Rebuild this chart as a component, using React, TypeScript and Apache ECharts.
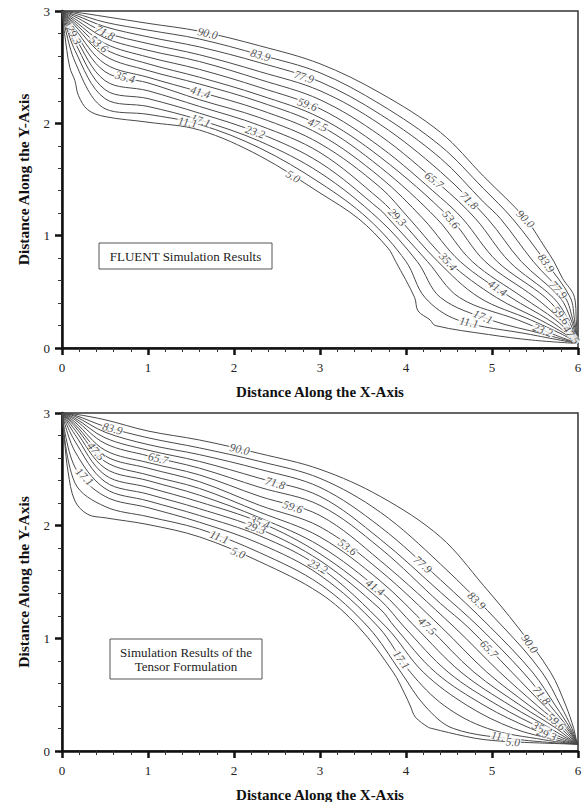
import React, { useEffect, useRef } from "react";
import * as echarts from "echarts";

// contour levels, outermost (top/right) to innermost
const LEVELS = ["90.0", "83.9", "77.9", "71.8", "65.7", "59.6", "53.6", "47.5", "41.4", "35.4", "29.3", "23.2", "17.1", "11.1", "5.0"];
const N = null;

// ---------- FLUENT (top panel) ----------
// Y of each contour at fixed X
const f_x015 = [2.99, 2.98, 2.965, 2.95, 2.93, 2.91, 2.89, 2.87, 2.84, 2.81, 2.77, 2.72, 2.65, 2.55, 2.38];
const f_x05 = [2.95, 2.9, 2.86, 2.81, 2.76, 2.71, 2.66, 2.6, 2.53, 2.46, 2.38, 2.3, 2.22, 2.13, 2.06];
const f_x10 = [2.89, 2.83, 2.77, 2.71, 2.65, 2.59, 2.53, 2.47, 2.41, 2.36, 2.29, 2.22, 2.15, 2.08, 2.01];
const f_x16 = [2.82, 2.75, 2.68, 2.61, 2.55, 2.48, 2.41, 2.35, 2.28, 2.21, 2.15, 2.09, 2.03, 1.99, 1.94];
const f_x23 = [2.69, 2.61, 2.54, 2.46, 2.39, 2.32, 2.25, 2.19, 2.12, 2.05, 1.98, 1.91, 1.84, 1.78, 1.71];
const f_x30 = [2.53, 2.45, 2.37, 2.29, 2.21, 2.13, 2.05, 1.98, 1.9, 1.82, 1.74, 1.65, 1.56, 1.47, 1.38];
const f_x37 = [2.27, 2.17, 2.08, 1.99, 1.89, 1.79, 1.7, 1.61, 1.52, 1.43, 1.32, 1.23, N, N, N];
const f_x44 = [1.92, 1.8, 1.69, 1.57, 1.45, 1.34, N, N, N, N, N, N, N, N, N];
const f_x49 = [1.53, 1.42, 1.3, N, N, N, N, N, N, N, N, N, N, N, N];
// X of each contour at fixed Y
const f_y115 = [5.39, 5.24, 5.1, 4.95, 4.81, 4.66, 4.52, 4.36, 4.2, 4.04, 3.92, 3.8, 3.68, 3.56, 3.45];
const f_y077 = [5.72, 5.62, 5.48, 5.34, 5.2, 5.06, 4.92, 4.77, 4.63, 4.49, 4.37, 4.25, 4.13, 4.0, 3.88];
const f_y045 = [5.96, 5.91, 5.85, 5.79, 5.71, 5.62, 5.5, 5.36, 5.22, 5.05, 4.85, 4.62, 4.4, 4.22, 4.1];
const f_y025 = [5.98, 5.96, 5.94, 5.92, 5.89, 5.85, 5.8, 5.74, 5.66, 5.56, 5.45, 5.3, 4.98, 4.6, 4.28];
const f_y012 = [5.99, 5.985, 5.98, 5.97, 5.96, 5.95, 5.94, 5.92, 5.89, 5.86, 5.82, 5.72, 5.62, 5.45, 4.96];
const f_extra90 = [[5.62, 0.89], [5.82, 0.62]];
const f_extra5 = [[0.03, 2.8], [0.09, 2.5], [0.19, 2.25], [0.3, 2.12], [3.79, 0.89], [4.14, 0.33], [4.34, 0.2], [5.47, 0.07]];
const f_end = [6, 0.04];
const fluentLabels: [string, number, number][] = [
  ["90.0", 1.7, 2.82], ["90.0", 5.39, 1.15], ["83.9", 2.3, 2.59], ["83.9", 5.62, 0.75],
  ["77.9", 2.81, 2.4], ["77.9", 5.76, 0.51], ["71.8", 0.5, 2.81], ["71.8", 4.73, 1.31],
  ["65.7", 4.32, 1.49], ["59.6", 2.85, 2.16], ["59.6", 5.8, 0.29], ["53.6", 0.41, 2.69],
  ["53.6", 4.52, 1.14], ["47.5", 2.97, 1.98], ["47.5", 5.94, 0.13], ["41.4", 1.61, 2.28],
  ["41.4", 5.08, 0.55], ["35.4", 0.73, 2.4], ["35.4", 4.49, 0.77], ["29.3", 0.12, 2.78],
  ["29.3", 3.88, 1.15], ["23.2", 2.25, 1.93], ["23.2", 5.59, 0.16], ["17.1", 1.61, 2.02],
  ["17.1", 4.89, 0.27], ["11.1", 1.46, 2.0], ["11.1", 4.73, 0.22], ["5.0", 2.69, 1.53],
];

// ---------- Tensor formulation (bottom panel) ----------
const t_x015 = [2.99, 2.98, 2.97, 2.955, 2.94, 2.92, 2.9, 2.88, 2.85, 2.81, 2.75, 2.66, 2.52, 2.38, 2.22];
const t_x05 = [2.94, 2.88, 2.83, 2.78, 2.73, 2.67, 2.62, 2.57, 2.51, 2.45, 2.39, 2.33, 2.26, 2.17, 2.07];
const t_x10 = [2.84, 2.78, 2.72, 2.67, 2.62, 2.56, 2.51, 2.45, 2.4, 2.34, 2.28, 2.22, 2.16, 2.08, 2.01];
const t_x16 = [2.76, 2.69, 2.63, 2.57, 2.51, 2.45, 2.39, 2.33, 2.27, 2.21, 2.15, 2.09, 2.03, 1.97, 1.9];
const t_x23 = [2.64, 2.57, 2.5, 2.42, 2.34, 2.26, 2.18, 2.12, 2.07, 2.03, 1.97, 1.91, 1.84, 1.76, 1.68];
const t_x30 = [2.5, 2.42, 2.34, 2.26, 2.18, 2.09, 1.99, 1.9, 1.82, 1.75, 1.69, 1.63, 1.56, 1.48, 1.4];
const t_x37 = [2.26, 2.12, 1.99, 1.88, 1.8, 1.69, 1.6, 1.51, 1.42, 1.34, 1.26, N, N, N, N];
const t_x44 = [1.9, 1.66, 1.52, 1.41, 1.31, N, N, N, N, N, N, N, N, N, N];
const t_x49 = [1.47, N, N, N, N, N, N, N, N, N, N, N, N, N, N];
const t_y11 = [5.3, 5.13, 4.98, 4.85, 4.72, 4.56, 4.41, 4.26, 4.11, 3.98, 3.87, 3.77, 3.68, 3.56, 3.45];
const t_y07 = [5.68, 5.58, 5.47, 5.36, 5.23, 5.09, 4.94, 4.79, 4.64, 4.49, 4.34, 4.2, 4.05, 3.94, 3.85];
const t_y04 = [5.86, 5.8, 5.74, 5.68, 5.61, 5.53, 5.44, 5.34, 5.22, 5.08, 4.92, 4.72, 4.45, 4.22, 4.05];
const t_y02 = [5.95, 5.93, 5.91, 5.89, 5.87, 5.84, 5.8, 5.75, 5.68, 5.58, 5.45, 5.25, 4.95, 4.55, 4.3];
const t_y01 = [5.98, 5.975, 5.97, 5.965, 5.96, 5.95, 5.94, 5.92, 5.9, 5.87, 5.82, 5.74, 5.6, 5.33, 4.92];
const t_extra90: number[][] = [];
const t_extra5 = [[0.03, 2.75], [0.07, 2.48], [0.3, 2.1], [3.99, 0.5], [4.11, 0.3], [4.26, 0.21], [4.69, 0.13], [5.27, 0.08]];
const t_end = [6, 0.06];
const tensorLabels: [string, number, number][] = [
  ["83.9", 0.59, 2.87], ["83.9", 4.84, 1.35], ["90.0", 2.07, 2.69], ["90.0", 5.47, 0.97],
  ["65.7", 1.12, 2.6], ["65.7", 4.96, 0.9], ["47.5", 0.38, 2.65], ["47.5", 4.25, 1.11],
  ["17.1", 0.23, 2.41], ["17.1", 3.93, 0.8], ["71.8", 2.48, 2.38], ["71.8", 5.62, 0.52],
  ["59.6", 2.68, 2.16], ["59.6", 5.77, 0.28], ["35.4", 2.3, 2.03], ["35.4", 5.59, 0.21],
  ["29.3", 2.25, 1.98], ["29.3", 5.64, 0.16], ["11.1", 1.82, 1.88], ["11.1", 5.1, 0.12],
  ["5.0", 2.05, 1.76], ["5.0", 5.24, 0.05], ["23.2", 2.97, 1.63], ["53.6", 3.32, 1.81],
  ["77.9", 4.19, 1.65], ["41.4", 3.64, 1.45],
];

const X_TICKS = [0, 1, 2, 3, 4, 5, 6];
const Y_TICKS = [0, 1, 2, 3];

const SERIF = "'Liberation Serif', 'DejaVu Serif', serif";
const GRID_W = 516;
const GRIDS = [
  { left: 62, top: 11, width: GRID_W, height: 337 },
  { left: 62, top: 413, width: GRID_W, height: 338 },
];

type Pt = number[];

function buildLine(i: number, xSt: [number, (number | null)[]][], ySt: [number, (number | null)[]][], extra: Pt[], end: Pt): Pt[] {
  const pts: Pt[] = [[0, 3]];
  xSt.forEach(([x, arr]) => { const v = arr[i]; if (v != null) pts.push([x, v]); });
  ySt.forEach(([y, arr]) => { const v = arr[i]; if (v != null) pts.push([v, y]); });
  extra.forEach((p) => pts.push(p));
  pts.push(end);
  const key = (p: Pt) => p[0] / 6 + (3 - p[1]) / 3;
  pts.sort((a, b) => key(a) - key(b));
  const out: Pt[] = [pts[0]];
  for (const p of pts.slice(1)) {
    const q = out[out.length - 1];
    if (p[0] >= q[0] && p[1] <= q[1] && (p[0] !== q[0] || p[1] !== q[1])) out.push(p);
  }
  return out;
}

function snapLabel(line: Pt[], lx: number, ly: number, sx: number, sy: number) {
  let best = { d: Infinity, x: lx, y: ly, ang: 0 };
  for (let k = 0; k < line.length - 1; k++) {
    const ax = line[k][0] * sx, ay = line[k][1] * sy;
    const bx = line[k + 1][0] * sx, by = line[k + 1][1] * sy;
    const px = lx * sx, py = ly * sy;
    const dx = bx - ax, dy = by - ay;
    const len2 = dx * dx + dy * dy || 1;
    let t = ((px - ax) * dx + (py - ay) * dy) / len2;
    t = Math.max(0, Math.min(1, t));
    const cx = ax + t * dx, cy = ay + t * dy;
    const d = Math.hypot(px - cx, py - cy);
    if (d < best.d) best = { d, x: cx / sx, y: cy / sy, ang: (Math.atan2(dy, dx) * 180) / Math.PI };
  }
  return best;
}

function panelSeries(idx: number, xSt: any, ySt: any, extra90: Pt[], extra5: Pt[], end: Pt, labels: [string, number, number][]) {
  const g = GRIDS[idx];
  const sx = g.width / 6, sy = g.height / 3;
  const lines = LEVELS.map((_, i) =>
    buildLine(i, xSt, ySt, i === 0 ? extra90 : i === LEVELS.length - 1 ? extra5 : [], end)
  );
  const series: any[] = lines.map((pts, i) => ({
    type: "line",
    name: LEVELS[i],
    xAxisIndex: idx,
    yAxisIndex: idx,
    data: pts,
    symbol: "none",
    showSymbol: false,
    smooth: 0.35,
    clip: true,
    silent: true,
    lineStyle: { color: "#4a4a4a", width: 1 },
    z: 2,
  }));
  const labelData = labels.map(([lv, lx, ly]) => {
    const li = LEVELS.indexOf(lv);
    const s = snapLabel(lines[li], lx, ly, sx, sy);
    let ang = s.ang;
    if (ang > 90) ang -= 180;
    if (ang < -90) ang += 180;
    return { value: [s.x, s.y], name: lv, label: { rotate: ang } };
  });
  series.push({
    type: "scatter",
    xAxisIndex: idx,
    yAxisIndex: idx,
    symbolSize: 0,
    silent: true,
    clip: true,
    z: 5,
    data: labelData,
    label: {
      show: true,
      position: "inside",
      formatter: (p: any) => p.name,
      fontFamily: SERIF,
      fontStyle: "italic",
      fontSize: 11.5,
      lineHeight: 8,
      color: "#222",
      backgroundColor: "#fff",
      padding: [0, 1],
    },
  });
  return series;
}

function mkX(idx: number) {
  return {
    type: "value",
    gridIndex: idx,
    min: X_TICKS[0],
    max: X_TICKS[X_TICKS.length - 1],
    interval: 1,
    axisLine: { show: true, onZero: false, lineStyle: { color: "#111", width: 2.5 } },
    axisTick: { show: true, inside: false, length: 7, lineStyle: { color: "#111", width: 2.5 } },
    minorTick: { show: true, splitNumber: 5, length: 4, lineStyle: { color: "#333", width: 1 } },
    splitLine: { show: false },
    axisLabel: { fontFamily: SERIF, fontSize: 13, color: "#222", margin: 13 },
    name: "Distance Along the X-Axis",
    nameLocation: "middle",
    nameGap: 36,
    nameTextStyle: { fontFamily: SERIF, fontWeight: "bold", fontSize: 15, color: "#111" },
  };
}

function mkY(idx: number) {
  return {
    type: "value",
    gridIndex: idx,
    min: Y_TICKS[0],
    max: Y_TICKS[Y_TICKS.length - 1],
    interval: 1,
    axisLine: { show: true, onZero: false, lineStyle: { color: "#111", width: 2.5 } },
    axisTick: { show: true, inside: false, length: 7, lineStyle: { color: "#111", width: 2.5 } },
    minorTick: { show: true, splitNumber: 5, length: 4, lineStyle: { color: "#333", width: 1 } },
    splitLine: { show: false },
    axisLabel: { fontFamily: SERIF, fontSize: 13, color: "#222", margin: 12 },
    name: "Distance Along the Y-Axis",
    nameLocation: "middle",
    nameGap: 31,
    nameRotate: 90,
    nameTextStyle: { fontFamily: SERIF, fontWeight: "bold", fontSize: 15.5, color: "#111" },
  };
}

export default function App() {
  const ref = useRef<HTMLDivElement>(null);
  useEffect(() => {
    if (!ref.current) return;
    const chart = echarts.init(ref.current, undefined, { renderer: "svg" });
    const fX: any = [[0.15, f_x015], [0.5, f_x05], [1.0, f_x10], [1.6, f_x16], [2.3, f_x23], [3.0, f_x30], [3.7, f_x37], [4.4, f_x44], [4.9, f_x49]];
    const fY: any = [[1.15, f_y115], [0.77, f_y077], [0.45, f_y045], [0.25, f_y025], [0.12, f_y012]];
    const tX: any = [[0.15, t_x015], [0.5, t_x05], [1.0, t_x10], [1.6, t_x16], [2.3, t_x23], [3.0, t_x30], [3.7, t_x37], [4.4, t_x44], [4.9, t_x49]];
    const tY: any = [[1.1, t_y11], [0.7, t_y07], [0.4, t_y04], [0.2, t_y02], [0.1, t_y01]];
    const series = [
      ...panelSeries(0, fX, fY, f_extra90, f_extra5, f_end, fluentLabels),
      ...panelSeries(1, tX, tY, t_extra90, t_extra5, t_end, tensorLabels),
    ];
    const boxStyle = { fill: "#fff", stroke: "#555", lineWidth: 1 };
    const txt = (text: string, x: number, y: number) => ({
      type: "text", x, y, z: 11,
      style: { text, fontFamily: SERIF, fontSize: 13, fill: "#222", textAlign: "center", textVerticalAlign: "middle" },
    });
    chart.setOption({
      animation: false,
      backgroundColor: "#fff",
      grid: GRIDS.map((g) => ({
        ...g,
        show: true,
        borderColor: "#333",
        borderWidth: 1.5,
        backgroundColor: "transparent",
        containLabel: false,
        outerBoundsMode: "none",
      })),
      xAxis: [mkX(0), mkX(1)],
      yAxis: [mkY(0), mkY(1)],
      series,
      graphic: [
        { type: "rect", shape: { x: 99, y: 243, width: 173, height: 26 }, style: boxStyle, z: 10 },
        txt("FLUENT Simulation Results", 185.5, 256),
        { type: "rect", shape: { x: 110, y: 639, width: 152, height: 40 }, style: boxStyle, z: 10 },
        txt("Simulation Results of the", 186, 652.5),
        txt("Tensor Formulation", 186, 666.5),
      ],
    });
    return () => chart.dispose();
  }, []);
  return <div ref={ref} style={{ position: "fixed", left: 0, top: 0, width: 584, height: 802, background: "#fff" }} />;
}
